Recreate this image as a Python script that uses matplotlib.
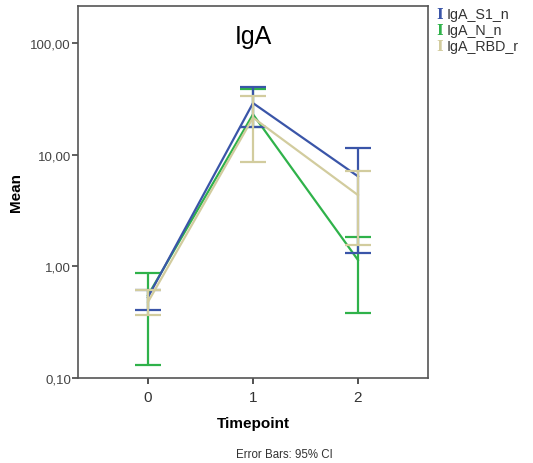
import matplotlib
matplotlib.use("Agg")
import matplotlib.pyplot as plt
import matplotlib.ticker as mticker
import numpy as np

plt.rcParams['font.family'] = ['Liberation Sans', 'DejaVu Sans']

timepoints = [0, 1, 2]
series_names = ['IgA_S1_n', 'IgA_N_n', 'IgA_RBD_r']
series_colors = ['#3a55a8', '#2fb24a', '#d2cc9e']
series_z = [3, 2, 4]

# means and 95% CI bounds
s1_mean = [0.53, 29.0, 6.4]
s1_low = [0.41, 17.8, 1.32]
s1_high = [0.61, 40.5, 11.4]

n_mean = [0.55, 23.0, 1.14]
n_low = [0.13, 17.8, 0.385]
n_high = [0.87, 39.0, 1.84]

rbd_mean = [0.48, 21.5, 4.35]
rbd_low = [0.37, 8.6, 1.54]
rbd_high = [0.62, 33.7, 7.1]

means = [s1_mean, n_mean, rbd_mean]
lows = [s1_low, n_low, rbd_low]
highs = [s1_high, n_high, rbd_high]

y_ticks = [0.1, 1, 10, 100]

fig = plt.figure(figsize=(5.33, 4.64), dpi=100)
ax = fig.add_axes([0.1463, 0.1832, 0.803 - 0.1463, 0.985 - 0.1832])

for m, lo, hi, c, z in zip(means, lows, highs, series_colors, series_z):
    m = np.array(m)
    yerr = [m - np.array(lo), np.array(hi) - m]
    ax.errorbar(timepoints, m, yerr=yerr, color=c, lw=1.6, elinewidth=1.6,
                capsize=9.4, capthick=1.6, zorder=z)

ax.set_yscale('log')
ax.set_ylim(0.1, 215)
ax.set_xlim(-0.667, 2.667)
ax.set_yticks(y_ticks)
ax.yaxis.set_major_formatter(mticker.FuncFormatter(
    lambda v, p: ('%.2f' % v).replace('.', ',')))
ax.yaxis.set_minor_locator(mticker.NullLocator())
ax.set_xticks(timepoints)
ax.tick_params(axis='y', labelsize=9.5, colors='#444444', length=4,
               width=1.2, pad=1)
ax.tick_params(axis='x', labelsize=11, colors='#333333', length=4,
               width=1.2, pad=5)
for sp in ax.spines.values():
    sp.set_color('#555555')
    sp.set_linewidth(1.2)

ax.set_xlabel('Timepoint', fontsize=11, fontweight='bold', labelpad=8)
ax.set_ylabel('Mean', fontsize=11, fontweight='bold')
ax.yaxis.set_label_coords(-(78 - 23) / 350, 0.5)
ax.text(0.5, 0.92, 'IgA', transform=ax.transAxes, ha='center', va='center',
        fontsize=18)

fig.text(0.534, 1 - 455 / 464, 'Error Bars: 95% CI', ha='center',
         va='center', fontsize=8.3, color='#333333')

# legend drawn as coloured "I" glyphs next to the names
for i, (name, c) in enumerate(zip(series_names, series_colors)):
    y = 1 - (15 + 16 * i) / 464
    fig.text(436 / 533, y, 'I', color=c, fontsize=10, fontweight='bold',
             family='DejaVu Serif', ha='left', va='center')
    fig.text(447 / 533, y, name, color='#333333', fontsize=10.3,
             ha='left', va='center')

fig.savefig('out.png', dpi=100)
